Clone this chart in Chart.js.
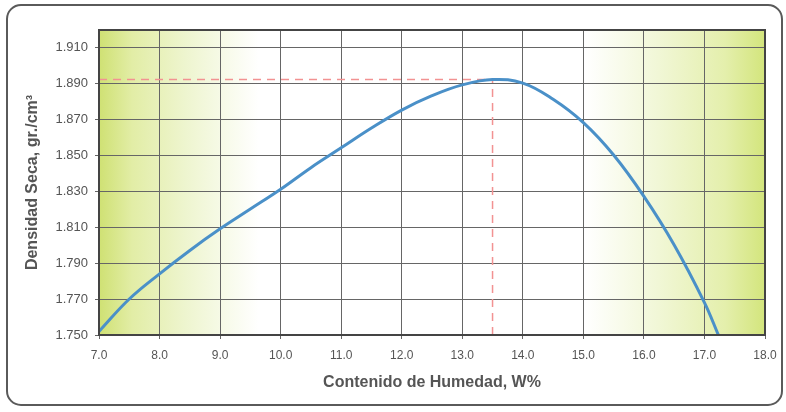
<!DOCTYPE html>
<html lang="es">
<head>
    <meta charset="UTF-8">
    <title>Curva de compactación</title>
    <style>
        html, body { margin: 0; padding: 0; background: #ffffff; }
        #wrap { width: 786px; height: 412px; position: relative; }
        #myChart { width: 786px !important; height: 412px !important; }
    </style>
</head>
<body>
    <div id="wrap"><canvas id="myChart" width="786" height="412"></canvas></div>

    <script src="https://cdn.jsdelivr.net/npm/chart.js"></script>
    <script>
        // Curva de compactación (humedad % vs densidad seca)
        const humedad = [7.0, 7.5, 8.0, 8.5, 9.0, 9.5, 10.0, 10.5, 11.0, 11.5, 12.0, 12.5, 13.0, 13.5, 14.0, 14.5, 15.0, 15.5, 16.0, 16.5, 17.0, 17.23];
        const densidad = [1.752, 1.770, 1.784, 1.797, 1.809, 1.820, 1.831, 1.843, 1.854, 1.865, 1.875, 1.883, 1.889, 1.892, 1.890, 1.881, 1.868, 1.850, 1.827, 1.800, 1.768, 1.750];

        // Óptimo: humedad óptima y densidad máxima
        const humedadOptima = 13.5;
        const densidadMaxima = 1.892;

        const xTicks = [7, 8, 9, 10, 11, 12, 13, 14, 15, 16, 17, 18];
        const yTicks = [1.750, 1.770, 1.790, 1.810, 1.830, 1.850, 1.870, 1.890, 1.910];

        const curva = humedad.map((x, i) => ({ x: x, y: densidad[i] }));
        const lineaH = [{ x: xTicks[0], y: densidadMaxima }, { x: humedadOptima, y: densidadMaxima }];
        const lineaV = [{ x: humedadOptima, y: yTicks[0] }, { x: humedadOptima, y: densidadMaxima }];

        // fondo degradado del área y marco
        const fondo = {
            id: 'fondo',
            beforeDraw(chart) {
                const ctx = chart.ctx;
                const a = chart.chartArea;
                ctx.save();
                // marco exterior redondeado
                ctx.strokeStyle = '#5a5a5a';
                ctx.lineWidth = 2;
                ctx.beginPath();
                ctx.roundRect(7, 5, 775, 400, 14);
                ctx.stroke();

                const g = ctx.createLinearGradient(a.left, 0, a.right, 0);
                g.addColorStop(0, '#cfe173');
                g.addColorStop(0.05, '#e2eda6');
                g.addColorStop(0.13, '#eef5cf');
                g.addColorStop(0.24, '#ffffff');
                g.addColorStop(0.73, '#ffffff');
                g.addColorStop(0.84, '#f1f7d6');
                g.addColorStop(0.94, '#e4efac');
                g.addColorStop(1, '#d3e57c');
                ctx.fillStyle = g;
                ctx.fillRect(a.left, a.top, a.right - a.left, a.bottom - a.top);
                ctx.restore();
            },
            afterDraw(chart) {
                const ctx = chart.ctx;
                const a = chart.chartArea;
                ctx.save();
                ctx.strokeStyle = '#444444';
                ctx.lineWidth = 2;
                ctx.strokeRect(a.left, a.top, a.right - a.left, a.bottom - a.top);
                ctx.restore();
            }
        };

        const ctx = document.getElementById('myChart').getContext('2d');
        new Chart(ctx, {
            type: 'scatter',
            data: {
                datasets: [
                    {
                        label: 'Curva',
                        data: curva,
                        showLine: true,
                        borderColor: '#4a90c8',
                        borderWidth: 3,
                        pointRadius: 0,
                        tension: 0.4,
                        order: 1
                    },
                    {
                        label: 'Dmax',
                        data: lineaH,
                        showLine: true,
                        borderColor: '#f29292',
                        borderWidth: 1.5,
                        borderDash: [8, 6],
                        pointRadius: 0,
                        order: 2
                    },
                    {
                        label: 'Wopt',
                        data: lineaV,
                        showLine: true,
                        borderColor: '#f29292',
                        borderWidth: 1.5,
                        borderDash: [8, 6],
                        pointRadius: 0,
                        order: 2
                    }
                ]
            },
            options: {
                responsive: false,
                animation: false,
                layout: { padding: { left: 19, top: 30, right: 21, bottom: 16 } },
                scales: {
                    x: {
                        type: 'linear',
                        min: 7,
                        max: 18,
                        afterBuildTicks: s => { s.ticks = xTicks.map(v => ({ value: v })); },
                        afterFit: s => { s.height = 61; },
                        ticks: {
                            callback: v => Number(v).toFixed(1),
                            color: '#555555',
                            font: { family: 'Liberation Sans', size: 12 },
                            padding: 9,
                            maxRotation: 0
                        },
                        grid: { color: '#666666', lineWidth: 1, tickLength: 4 },
                        border: { display: false },
                        title: {
                            display: true,
                            text: 'Contenido de Humedad, W%',
                            color: '#555555',
                            font: { family: 'Liberation Sans', size: 16, weight: 'bold' }
                        }
                    },
                    y: {
                        min: 1.75,
                        max: 1.9195,
                        afterBuildTicks: s => { s.ticks = yTicks.map(v => ({ value: v })); },
                        afterFit: s => { s.width = 80; },
                        ticks: {
                            callback: v => Number(v).toFixed(3),
                            color: '#555555',
                            font: { family: 'Liberation Sans', size: 13 },
                            padding: 7
                        },
                        grid: { color: '#666666', lineWidth: 1, tickLength: 4 },
                        border: { display: false },
                        title: {
                            display: true,
                            text: 'Densidad Seca, gr./cm³',
                            color: '#555555',
                            font: { family: 'Liberation Sans', size: 16, weight: 'bold' }
                        }
                    }
                },
                plugins: {
                    legend: { display: false },
                    tooltip: { enabled: false }
                }
            },
            plugins: [fondo]
        });
    </script>
</body>
</html>
